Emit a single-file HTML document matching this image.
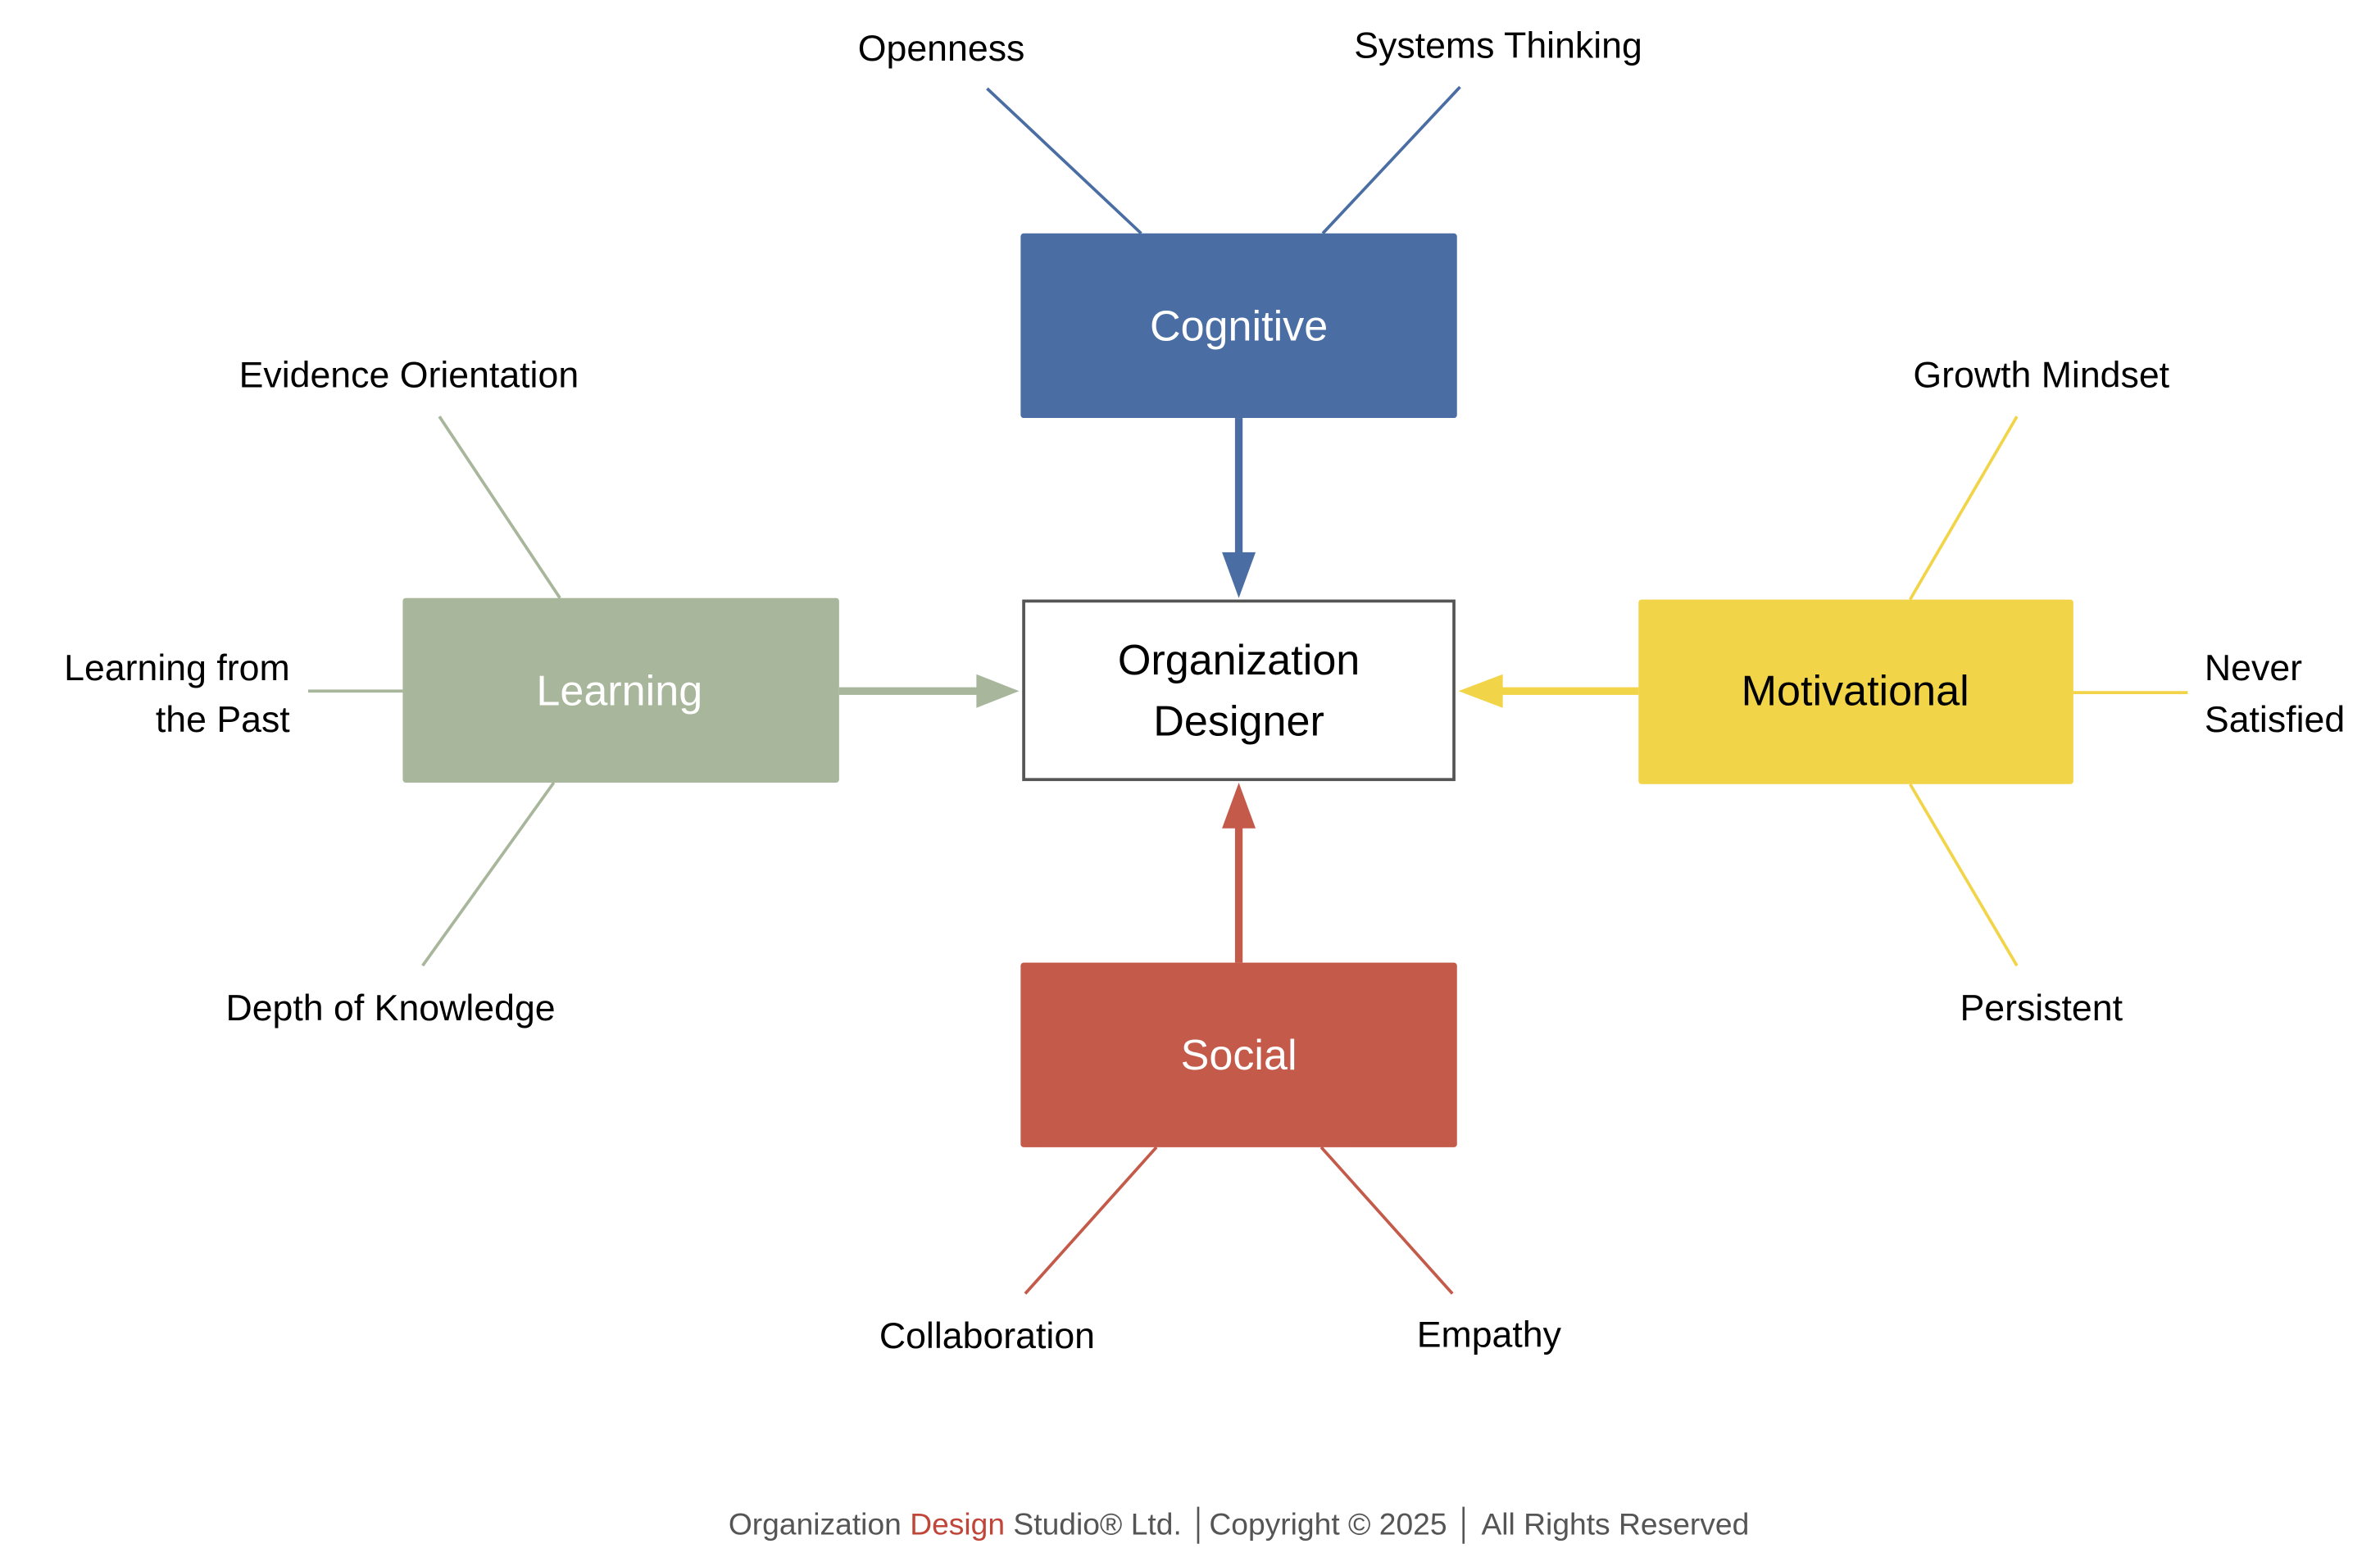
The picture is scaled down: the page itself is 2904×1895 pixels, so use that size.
<!DOCTYPE html>
<html><head><meta charset="utf-8"><style>
html,body{margin:0;padding:0;background:#fff;}
svg{display:block;}
text{font-family:"Liberation Sans","DejaVu Sans",sans-serif;}
</style></head><body>
<svg width="2904" height="1895" viewBox="0 0 1560 1018" preserveAspectRatio="none" xmlns="http://www.w3.org/2000/svg">
<rect width="1560" height="1018" fill="#fff"/>
<g stroke-width="2" fill="none">
<line x1="647" y1="58" x2="748" y2="153" stroke="#4a6ea3"/>
<line x1="957" y1="57" x2="867" y2="153" stroke="#4a6ea3"/>
<line x1="288" y1="273" x2="367" y2="392" stroke="#a8b69b"/>
<line x1="202" y1="453" x2="264" y2="453" stroke="#a8b69b"/>
<line x1="363" y1="513" x2="277" y2="633" stroke="#a8b69b"/>
<line x1="1252" y1="393" x2="1322" y2="273" stroke="#f1d447"/>
<line x1="1359" y1="454" x2="1434" y2="454" stroke="#f1d447"/>
<line x1="1252" y1="514" x2="1322" y2="633" stroke="#f1d447"/>
<line x1="758" y1="752" x2="672" y2="848" stroke="#c45a4a"/>
<line x1="866" y1="752" x2="952" y2="848" stroke="#c45a4a"/>
</g>
<rect x="669" y="153" width="286" height="121" rx="2" fill="#4a6ea3"/>
<rect x="264" y="392" width="286" height="121" rx="2" fill="#a8b69b"/>
<rect x="1074" y="393" width="285" height="121" rx="2" fill="#f1d447"/>
<rect x="669" y="631" width="286" height="121" rx="2" fill="#c45a4a"/>
<rect x="671" y="394" width="282" height="117" fill="#fff" stroke="#555" stroke-width="2"/>
<!-- arrows -->
<rect x="809.5" y="274" width="5" height="90" fill="#4a6ea3"/>
<polygon points="801,362 823,362 812,392" fill="#4a6ea3"/>
<rect x="550" y="450.5" width="92" height="5" fill="#a8b69b"/>
<polygon points="640,442 640,464 668,453" fill="#a8b69b"/>
<rect x="983" y="450.5" width="91" height="5" fill="#f1d447"/>
<polygon points="985,442 985,464 956,453" fill="#f1d447"/>
<rect x="809.5" y="541" width="5" height="90" fill="#c45a4a"/>
<polygon points="801,543 823,543 812,513" fill="#c45a4a"/>
<g font-size="28" text-anchor="middle" dominant-baseline="central">
<text x="812" y="214" fill="#fff">Cognitive</text>
<text x="406" y="453" fill="#fff">Learning</text>
<text x="1216" y="453" fill="#000">Motivational</text>
<text x="812" y="692" fill="#fff">Social</text>
<text x="812" y="433" fill="#000">Organization</text>
<text x="812" y="473" fill="#000">Designer</text>
</g>
<g font-size="24" fill="#000" text-anchor="middle" dominant-baseline="central">
<text x="617" y="32">Openness</text>
<text x="982" y="30">Systems Thinking</text>
<text x="268" y="246">Evidence Orientation</text>
<text x="256" y="661">Depth of Knowledge</text>
<text x="1338" y="246">Growth Mindset</text>
<text x="1338" y="661">Persistent</text>
<text x="647" y="876">Collaboration</text>
<text x="976" y="875">Empathy</text>
<text x="190" y="438" text-anchor="end">Learning from</text>
<text x="190" y="472" text-anchor="end">the Past</text>
<text x="1445" y="438" text-anchor="start">Never</text>
<text x="1445" y="472" text-anchor="start">Satisfied</text>
</g>
<text x="812" y="999" font-size="20" fill="#555" text-anchor="middle" dominant-baseline="central">Organization <tspan fill="#c0463a">Design</tspan> Studio® Ltd. │Copyright © 2025 │ All Rights Reserved</text>
</svg>
</body></html>
